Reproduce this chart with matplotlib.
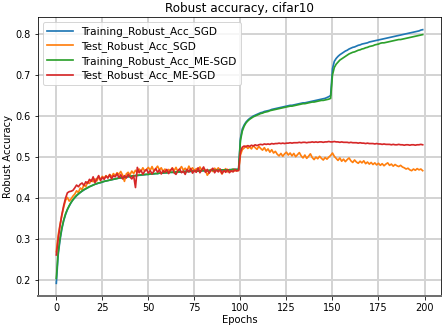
import matplotlib
matplotlib.use("Agg")
import matplotlib.pyplot as plt
import numpy as np

# per-epoch robust accuracy (epochs 0..199)
train_sgd = [
    0.193, 0.262, 0.298, 0.325, 0.345, 0.360, 0.372, 0.381, 0.389, 0.396,
    0.401, 0.406, 0.410, 0.414, 0.417, 0.420, 0.423, 0.425, 0.428, 0.430,
    0.432, 0.434, 0.435, 0.437, 0.438, 0.439, 0.441, 0.442, 0.443, 0.444,
    0.445, 0.446, 0.447, 0.448, 0.449, 0.449, 0.450, 0.451, 0.452, 0.452,
    0.453, 0.454, 0.454, 0.455, 0.455, 0.456, 0.456, 0.457, 0.457, 0.458,
    0.458, 0.459, 0.459, 0.459, 0.460, 0.460, 0.461, 0.461, 0.461, 0.462,
    0.462, 0.462, 0.463, 0.463, 0.463, 0.463, 0.464, 0.464, 0.464, 0.464,
    0.465, 0.465, 0.465, 0.465, 0.466, 0.466, 0.466, 0.466, 0.466, 0.467,
    0.467, 0.467, 0.467, 0.467, 0.468, 0.468, 0.468, 0.468, 0.468, 0.469,
    0.469, 0.469, 0.469, 0.469, 0.469, 0.470, 0.470, 0.470, 0.470, 0.470,
    0.545, 0.568, 0.578, 0.585, 0.590, 0.594, 0.597, 0.600, 0.602, 0.604,
    0.606, 0.608, 0.609, 0.611, 0.612, 0.613, 0.614, 0.616, 0.617, 0.618,
    0.619, 0.620, 0.621, 0.622, 0.623, 0.624, 0.625, 0.626, 0.626, 0.627,
    0.628, 0.629, 0.630, 0.631, 0.632, 0.632, 0.633, 0.634, 0.635, 0.636,
    0.637, 0.638, 0.639, 0.640, 0.641, 0.642, 0.643, 0.645, 0.647, 0.650,
    0.715, 0.733, 0.740, 0.745, 0.749, 0.752, 0.755, 0.758, 0.760, 0.763,
    0.765, 0.767, 0.768, 0.770, 0.772, 0.773, 0.775, 0.776, 0.777, 0.778,
    0.780, 0.781, 0.782, 0.783, 0.784, 0.785, 0.786, 0.787, 0.788, 0.789,
    0.790, 0.791, 0.792, 0.793, 0.794, 0.795, 0.796, 0.797, 0.798, 0.799,
    0.800, 0.801, 0.802, 0.803, 0.804, 0.805, 0.806, 0.807, 0.809, 0.810,
]

test_sgd = [
    0.270, 0.310, 0.335, 0.358, 0.378, 0.395, 0.402, 0.393, 0.398, 0.405,
    0.410, 0.418, 0.414, 0.425, 0.421, 0.433, 0.428, 0.440, 0.436, 0.445,
    0.440, 0.447, 0.442, 0.451, 0.446, 0.453, 0.449, 0.455, 0.450, 0.458,
    0.452, 0.460, 0.455, 0.462, 0.458, 0.465, 0.456, 0.441, 0.459, 0.463,
    0.457, 0.466, 0.460, 0.468, 0.462, 0.471, 0.465, 0.474, 0.466, 0.470,
    0.475, 0.468, 0.477, 0.466, 0.472, 0.478, 0.469, 0.474, 0.465, 0.471,
    0.463, 0.470, 0.466, 0.474, 0.467, 0.475, 0.465, 0.471, 0.477, 0.468,
    0.473, 0.466, 0.478, 0.469, 0.474, 0.465, 0.472, 0.467, 0.476, 0.468,
    0.473, 0.469, 0.456, 0.462, 0.470, 0.465, 0.473, 0.468, 0.474, 0.466,
    0.459, 0.467, 0.472, 0.464, 0.470, 0.465, 0.471, 0.466, 0.469, 0.467,
    0.505, 0.518, 0.522, 0.527, 0.521, 0.525, 0.520, 0.528, 0.523, 0.519,
    0.526, 0.521, 0.517, 0.523, 0.515, 0.520, 0.512, 0.518, 0.510, 0.514,
    0.507, 0.503, 0.509, 0.502, 0.508, 0.512, 0.505, 0.510, 0.503, 0.509,
    0.501, 0.506, 0.511, 0.503, 0.498, 0.505, 0.497, 0.502, 0.508, 0.499,
    0.494, 0.500, 0.496, 0.502, 0.497, 0.493, 0.499, 0.495, 0.500, 0.504,
    0.510, 0.502, 0.497, 0.492, 0.498, 0.490, 0.495, 0.489, 0.494, 0.498,
    0.491, 0.487, 0.493, 0.488, 0.485, 0.490, 0.486, 0.491, 0.484, 0.488,
    0.483, 0.487, 0.482, 0.486, 0.481, 0.485, 0.480, 0.484, 0.479, 0.483,
    0.486, 0.480, 0.483, 0.478, 0.482, 0.479, 0.477, 0.480, 0.476, 0.474,
    0.471, 0.473, 0.469, 0.467, 0.471, 0.468, 0.472, 0.469, 0.471, 0.467,
]

train_mesgd = [
    0.205, 0.268, 0.302, 0.328, 0.347, 0.362, 0.373, 0.382, 0.390, 0.396,
    0.402, 0.407, 0.411, 0.414, 0.418, 0.421, 0.423, 0.426, 0.428, 0.430,
    0.432, 0.434, 0.436, 0.437, 0.438, 0.440, 0.441, 0.442, 0.443, 0.444,
    0.445, 0.446, 0.447, 0.448, 0.449, 0.450, 0.450, 0.451, 0.452, 0.453,
    0.453, 0.454, 0.455, 0.455, 0.456, 0.456, 0.457, 0.457, 0.458, 0.458,
    0.458, 0.459, 0.459, 0.460, 0.460, 0.460, 0.461, 0.461, 0.462, 0.462,
    0.462, 0.463, 0.463, 0.463, 0.463, 0.464, 0.464, 0.464, 0.464, 0.465,
    0.465, 0.465, 0.465, 0.466, 0.466, 0.466, 0.466, 0.466, 0.467, 0.467,
    0.467, 0.467, 0.467, 0.468, 0.468, 0.468, 0.468, 0.468, 0.468, 0.469,
    0.469, 0.469, 0.469, 0.469, 0.469, 0.469, 0.470, 0.470, 0.470, 0.470,
    0.540, 0.563, 0.575, 0.583, 0.588, 0.592, 0.595, 0.598, 0.600, 0.602,
    0.604, 0.606, 0.607, 0.609, 0.610, 0.611, 0.613, 0.614, 0.615, 0.616,
    0.617, 0.618, 0.619, 0.620, 0.621, 0.622, 0.623, 0.624, 0.624, 0.625,
    0.626, 0.627, 0.628, 0.629, 0.630, 0.630, 0.631, 0.632, 0.633, 0.634,
    0.634, 0.635, 0.636, 0.637, 0.638, 0.638, 0.639, 0.640, 0.641, 0.643,
    0.700, 0.718, 0.726, 0.731, 0.736, 0.739, 0.742, 0.745, 0.748, 0.751,
    0.753, 0.755, 0.756, 0.758, 0.760, 0.761, 0.763, 0.764, 0.766, 0.767,
    0.769, 0.770, 0.771, 0.773, 0.774, 0.775, 0.777, 0.778, 0.778, 0.779,
    0.780, 0.781, 0.782, 0.783, 0.784, 0.785, 0.786, 0.786, 0.787, 0.788,
    0.789, 0.790, 0.791, 0.792, 0.793, 0.794, 0.795, 0.796, 0.797, 0.798,
]

test_mesgd = [
    0.262, 0.300, 0.333, 0.360, 0.382, 0.400, 0.413, 0.416, 0.417, 0.419,
    0.425, 0.432, 0.428, 0.434, 0.437, 0.431, 0.440, 0.436, 0.446, 0.441,
    0.452, 0.438, 0.447, 0.455, 0.443, 0.451, 0.446, 0.454, 0.449, 0.457,
    0.447, 0.455, 0.452, 0.460, 0.450, 0.457, 0.447, 0.455, 0.449, 0.458,
    0.452, 0.447, 0.455, 0.426, 0.475, 0.462, 0.468, 0.458, 0.466, 0.470,
    0.461, 0.467, 0.459, 0.466, 0.472, 0.463, 0.469, 0.459, 0.467, 0.463,
    0.470, 0.460, 0.468, 0.473, 0.462, 0.458, 0.467, 0.471, 0.462, 0.466,
    0.458, 0.470, 0.464, 0.472, 0.461, 0.468, 0.463, 0.474, 0.462, 0.469,
    0.476, 0.463, 0.470, 0.461, 0.468, 0.473, 0.462, 0.469, 0.464, 0.471,
    0.460, 0.468, 0.463, 0.470, 0.462, 0.467, 0.464, 0.470, 0.466, 0.468,
    0.512, 0.524, 0.527, 0.525, 0.528, 0.526, 0.529, 0.527, 0.530, 0.528,
    0.530, 0.531, 0.530, 0.532, 0.531, 0.532, 0.531, 0.533, 0.532, 0.533,
    0.533, 0.534, 0.533, 0.534, 0.533, 0.534, 0.534, 0.535, 0.534, 0.535,
    0.535, 0.535, 0.536, 0.535, 0.536, 0.536, 0.535, 0.536, 0.536, 0.537,
    0.536, 0.537, 0.536, 0.537, 0.537, 0.536, 0.537, 0.537, 0.538, 0.537,
    0.537, 0.538, 0.537, 0.537, 0.536, 0.537, 0.536, 0.536, 0.536, 0.535,
    0.536, 0.535, 0.535, 0.535, 0.534, 0.535, 0.534, 0.534, 0.533, 0.534,
    0.533, 0.533, 0.533, 0.532, 0.533, 0.532, 0.532, 0.531, 0.532, 0.531,
    0.531, 0.531, 0.530, 0.531, 0.530, 0.530, 0.531, 0.530, 0.530, 0.529,
    0.530, 0.530, 0.529, 0.530, 0.530, 0.529, 0.530, 0.530, 0.531, 0.530,
]

series = [
    ("Training_Robust_Acc_SGD", train_sgd, "#1f77b4"),
    ("Test_Robust_Acc_SGD", test_sgd, "#ff7f0e"),
    ("Training_Robust_Acc_ME-SGD", train_mesgd, "#2ca02c"),
    ("Test_Robust_Acc_ME-SGD", test_mesgd, "#d62728"),
]

DPI = 72
fig = plt.figure(figsize=(444 / DPI, 330 / DPI), dpi=DPI)
ax = fig.add_axes([38 / 444, 1 - 296 / 330, (441 - 38) / 444, (296 - 17) / 330])

epochs = np.arange(len(train_sgd))
for name, vals, color in series:
    ax.plot(epochs, vals, color=color, linewidth=1.7, label=name)

ax.grid(True, color="#d4d4d4", linewidth=2)
ax.set_axisbelow(True)
ax.set_xticks([0, 25, 50, 75, 100, 125, 150, 175, 200])
ax.set_yticks([0.2, 0.3, 0.4, 0.5, 0.6, 0.7, 0.8])
ax.tick_params(labelsize=9.8)
ax.spines["bottom"].set_color("#707070")
ax.spines["bottom"].set_linewidth(2)
ax.set_xlabel("Epochs", fontsize=10, labelpad=2)
ax.set_ylabel("Robust Accuracy", fontsize=10, labelpad=3)
ax.set_title("Robust accuracy, cifar10", fontsize=12, pad=5)
ax.legend(loc="upper left", fontsize=10.5, handlelength=2.4, borderpad=0.4,
          labelspacing=0.35)

fig.savefig("out.png", dpi=DPI)
